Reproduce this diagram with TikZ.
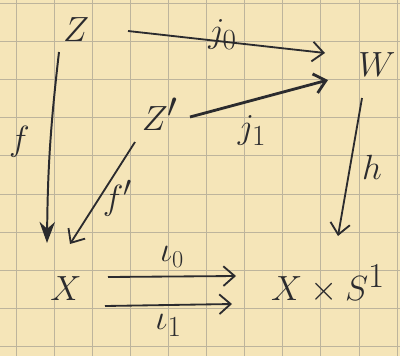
\documentclass[tikz,border=0pt]{standalone}
\usetikzlibrary{arrows.meta,positioning,calc}
\definecolor{paper}{HTML}{F5E5B8}
\definecolor{gridline}{HTML}{BDB49C}
\definecolor{ink}{HTML}{2B2B2E}

\begin{document}
\begin{tikzpicture}[
		x=0.025cm, y=-0.025cm,
		obj/.style={text=ink, inner sep=0pt, font=\fontsize{33}{36}\selectfont},
		lbl/.style={text=ink, inner sep=0pt, font=\fontsize{28}{32}\selectfont},
		arr/.style={-{Straight Barb[length=8pt,width=14pt]}, line width=1.3pt, draw=ink}
		]
		% Squared paper
		\useasboundingbox (0,0) rectangle (400,356);
		\fill[paper] (0,0) rectangle (400,356);
		\foreach \x in {16,54.1,...,400} \draw[gridline, line width=0.5pt] (\x,0) -- (\x,356);
		\foreach \y in {3,41.2,...,356} \draw[gridline, line width=0.5pt] (0,\y) -- (400,\y);
		
		% Objects
		\node[obj] (Z)  at (76,30)   {$Z$};
		\node[obj] (Zp) at (160,114) {$Z'$};
		\node[obj] (W)  at (377,65)  {$W$};
		\node[obj] (X)  at (66,289)  {$X$};
		\node[obj] (XS) at (328,284) {$X\times S^1$};
		
		% Arrows
		\draw[arr] ($(Z)+(52,1)$) -- node[lbl, pos=0.48, above=-6pt]{$j_0$} ($(W)+(-52,-12)$);
		\draw[arr, line width=2pt] ($(Zp)+(30,3)$) -- node[lbl, pos=0.45, below=10pt]{$j_1$} ($(W)+(-49,15)$);
		\draw[-{Stealth[length=15pt,width=11pt]}, line width=1.4pt, draw=ink]
			($(Z)+(-17,22)$) to[bend right=3] node[lbl, pos=0.47, left=14pt]{$f$} ($(X)+(-19,-46)$);
		\draw[arr] ($(Zp)+(-25,28)$) -- node[lbl, pos=0.55, right=2pt]{$f'$} ($(X)+(4,-45)$);
		\draw[arr] ($(W)+(-15,33)$) -- node[lbl, pos=0.5, right=8pt]{$h$} ($(XS)+(10,-48)$);
		\draw[arr] ($(X)+(42,-12)$) -- node[lbl, above=6pt, font=\fontsize{24}{28}\selectfont]{$\iota_0$} ($(XS)+(-92,-8)$);
		\draw[arr] ($(X)+(39,17)$) -- node[lbl, below=6pt]{$\iota_1$} ($(XS)+(-96,20)$);
	\end{tikzpicture}
\end{document}
